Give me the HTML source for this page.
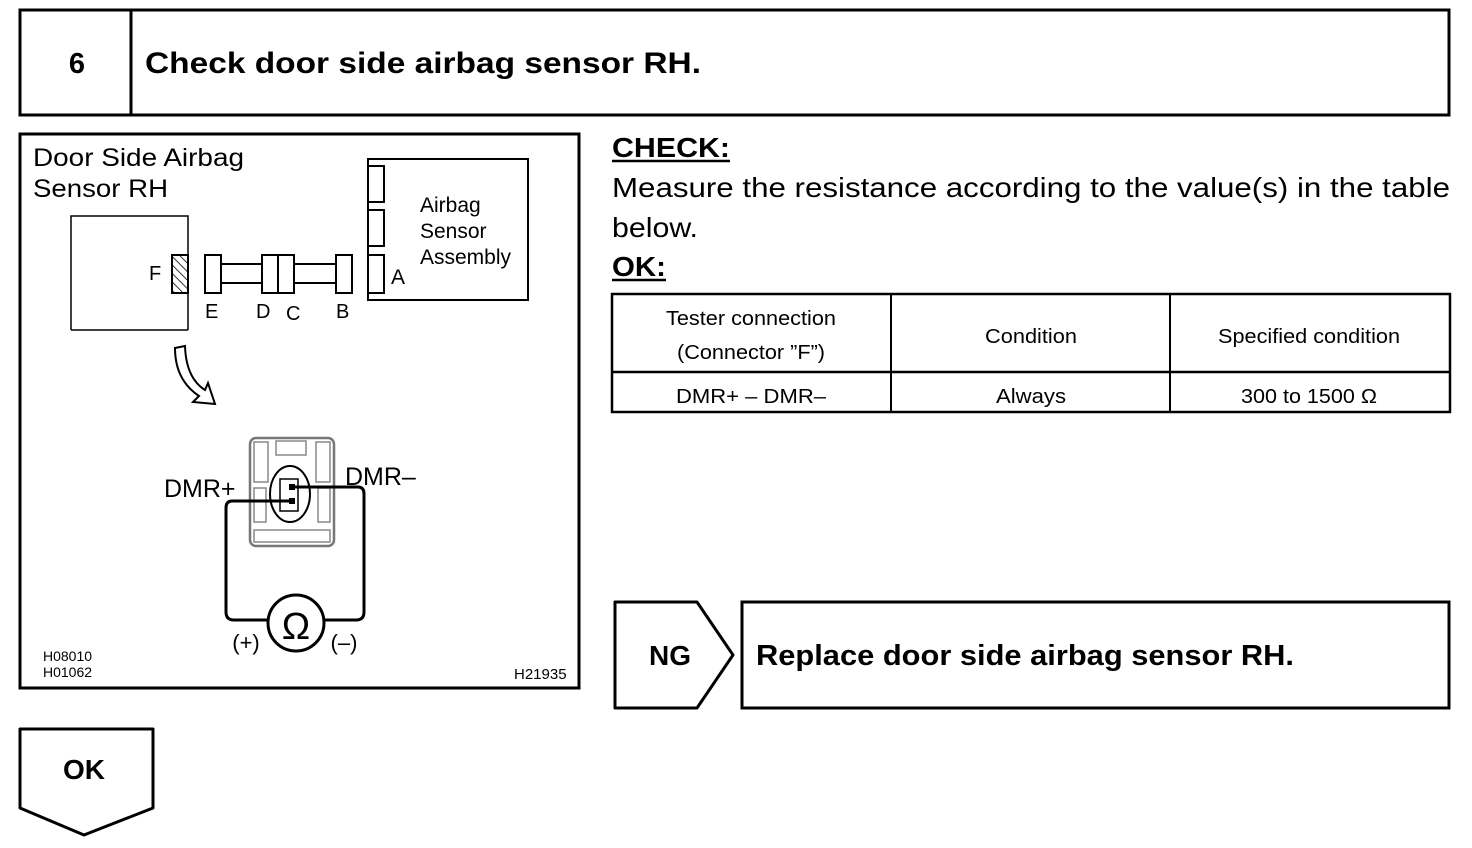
<!DOCTYPE html>
<html><head><meta charset="utf-8"><style>
html,body{margin:0;padding:0;background:#fff;}
svg{display:block;}
text{font-family:"Liberation Sans",Arial,sans-serif;fill:#000;}
</style></head><body>
<svg width="1472" height="848" viewBox="0 0 1472 848" xmlns="http://www.w3.org/2000/svg">
<defs>
<pattern id="hatch" width="6" height="6" patternUnits="userSpaceOnUse" patternTransform="rotate(-45)">
<line x1="0" y1="0" x2="0" y2="6" stroke="#000" stroke-width="1.5"/>
</pattern>
</defs>
<!-- header -->
<rect x="20" y="10" width="1429" height="105" fill="none" stroke="#000" stroke-width="3"/>
<line x1="131" y1="10" x2="131" y2="115" stroke="#000" stroke-width="3"/>
<text x="77" y="73" font-size="29" font-weight="bold" text-anchor="middle">6</text>
<text x="145" y="73" font-size="30" font-weight="bold" textLength="556" lengthAdjust="spacingAndGlyphs">Check door side airbag sensor RH.</text>

<!-- diagram box -->
<rect x="20" y="134" width="559" height="554" fill="none" stroke="#000" stroke-width="3"/>
<text x="33" y="166" font-size="25" textLength="211" lengthAdjust="spacingAndGlyphs">Door Side Airbag</text>
<text x="33" y="197" font-size="25" textLength="135" lengthAdjust="spacingAndGlyphs">Sensor RH</text>
<path d="M71 330 V216 H188 V330 M71 330 H188" fill="none" stroke="#000" stroke-width="1.5"/>
<rect x="172" y="255" width="16" height="38" fill="url(#hatch)" stroke="#000" stroke-width="2"/>
<text x="149" y="280" font-size="20">F</text>
<rect x="205" y="255" width="16" height="38" fill="#fff" stroke="#000" stroke-width="2"/>
<rect x="221" y="264" width="41" height="19" fill="#fff" stroke="#000" stroke-width="2"/>
<rect x="262" y="255" width="16" height="38" fill="#fff" stroke="#000" stroke-width="2"/>
<rect x="278" y="255" width="16" height="38" fill="#fff" stroke="#000" stroke-width="2"/>
<rect x="294" y="264" width="42" height="19" fill="#fff" stroke="#000" stroke-width="2"/>
<rect x="336" y="255" width="16" height="38" fill="#fff" stroke="#000" stroke-width="2"/>
<text x="205" y="318" font-size="20">E</text>
<text x="256" y="318" font-size="20">D</text>
<text x="286" y="320" font-size="20">C</text>
<text x="336" y="318" font-size="20">B</text>
<rect x="368" y="159" width="160" height="141" fill="none" stroke="#000" stroke-width="2"/>
<path d="M368 166 H384 V202 H368 M368 210 H384 V246 H368 M368 255 H384 V293 H368" fill="none" stroke="#000" stroke-width="2"/>
<text x="391" y="284" font-size="21">A</text>
<text x="420" y="212" font-size="21">Airbag</text>
<text x="420" y="238" font-size="21">Sensor</text>
<text x="420" y="264" font-size="21">Assembly</text>
<!-- curved arrow -->
<path d="M175 348 L185 346 Q186 378 205 390 L208 383 L215 404 L193 402 L199 396 Q175 380 175 348 Z" fill="#fff" stroke="#000" stroke-width="2"/>
<!-- connector -->
<rect x="250" y="438" width="84" height="108" rx="6" fill="#fff" stroke="#777" stroke-width="2.5"/>
<rect x="276" y="441" width="30" height="14" fill="none" stroke="#888" stroke-width="1.5"/>
<rect x="254" y="442" width="14" height="40" fill="none" stroke="#888" stroke-width="1.5"/>
<rect x="316" y="442" width="14" height="40" fill="none" stroke="#888" stroke-width="1.5"/>
<rect x="254" y="488" width="12" height="34" fill="none" stroke="#888" stroke-width="1.5"/>
<rect x="318" y="488" width="12" height="34" fill="none" stroke="#888" stroke-width="1.5"/>
<rect x="254" y="530" width="76" height="12" fill="none" stroke="#888" stroke-width="1.5"/>
<ellipse cx="290" cy="494" rx="20" ry="28" fill="none" stroke="#000" stroke-width="2"/>
<rect x="280" y="479" width="18" height="32" fill="none" stroke="#000" stroke-width="1.5"/>
<rect x="289" y="484" width="6" height="6" fill="#000"/>
<rect x="289" y="498" width="6" height="6" fill="#000"/>
<text x="164" y="497" font-size="25">DMR+</text>
<text x="345" y="485" font-size="25">DMR–</text>
<!-- wires -->
<path d="M292 487 H358 Q364 487 364 494 V612 Q364 620 356 620 H324" fill="none" stroke="#000" stroke-width="3"/>
<path d="M292 501 H232 Q226 501 226 508 V612 Q226 620 234 620 H268" fill="none" stroke="#000" stroke-width="3"/>
<circle cx="296" cy="623" r="28" fill="#fff" stroke="#000" stroke-width="3"/>
<text x="296" y="639" font-size="38" text-anchor="middle">Ω</text>
<text x="246" y="650" font-size="22" text-anchor="middle">(+)</text>
<text x="344" y="650" font-size="22" text-anchor="middle">(–)</text>
<text x="43" y="661" font-size="14">H08010</text>
<text x="43" y="677" font-size="14">H01062</text>
<text x="514" y="679" font-size="15">H21935</text>

<!-- right side text -->
<text x="612" y="157" font-size="28" font-weight="bold" textLength="118" lengthAdjust="spacingAndGlyphs">CHECK:</text>
<line x1="612" y1="161" x2="730" y2="161" stroke="#000" stroke-width="2.5"/>
<text x="612" y="197" font-size="28" textLength="838" lengthAdjust="spacingAndGlyphs">Measure the resistance according to the value(s) in the table</text>
<text x="612" y="237" font-size="28" textLength="86" lengthAdjust="spacingAndGlyphs">below.</text>
<text x="612" y="276" font-size="28" font-weight="bold" textLength="54" lengthAdjust="spacingAndGlyphs">OK:</text>
<line x1="612" y1="280" x2="666" y2="280" stroke="#000" stroke-width="2.5"/>

<!-- table -->
<rect x="612" y="294" width="838" height="118" fill="none" stroke="#000" stroke-width="2.5"/>
<line x1="612" y1="372" x2="1450" y2="372" stroke="#000" stroke-width="2.5"/>
<line x1="891" y1="294" x2="891" y2="412" stroke="#000" stroke-width="2"/>
<line x1="1170" y1="294" x2="1170" y2="412" stroke="#000" stroke-width="2"/>
<g font-size="20" text-anchor="middle">
<text x="751" y="325" textLength="170" lengthAdjust="spacingAndGlyphs">Tester connection</text>
<text x="751" y="359" textLength="148" lengthAdjust="spacingAndGlyphs">(Connector ”F”)</text>
<text x="1031" y="343" textLength="92" lengthAdjust="spacingAndGlyphs">Condition</text>
<text x="1309" y="343" textLength="182" lengthAdjust="spacingAndGlyphs">Specified condition</text>
<text x="751" y="403" textLength="150" lengthAdjust="spacingAndGlyphs">DMR+ – DMR–</text>
<text x="1031" y="403" textLength="70" lengthAdjust="spacingAndGlyphs">Always</text>
<text x="1309" y="403" textLength="136" lengthAdjust="spacingAndGlyphs">300 to 1500 Ω</text>
</g>

<!-- NG -->
<path d="M615 602 H697 L733 655 L697 708 H615 Z" fill="none" stroke="#000" stroke-width="3" stroke-linejoin="round"/>
<text x="670" y="665" font-size="28" font-weight="bold" text-anchor="middle">NG</text>
<rect x="742" y="602" width="707" height="106" fill="none" stroke="#000" stroke-width="3"/>
<text x="756" y="665" font-size="29" font-weight="bold" textLength="538" lengthAdjust="spacingAndGlyphs">Replace door side airbag sensor RH.</text>

<!-- OK -->
<path d="M20 729 H153 V808 L84 835 L20 808 Z" fill="none" stroke="#000" stroke-width="3" stroke-linejoin="round"/>
<text x="84" y="779" font-size="28" font-weight="bold" text-anchor="middle">OK</text>
</svg>
</body></html>
